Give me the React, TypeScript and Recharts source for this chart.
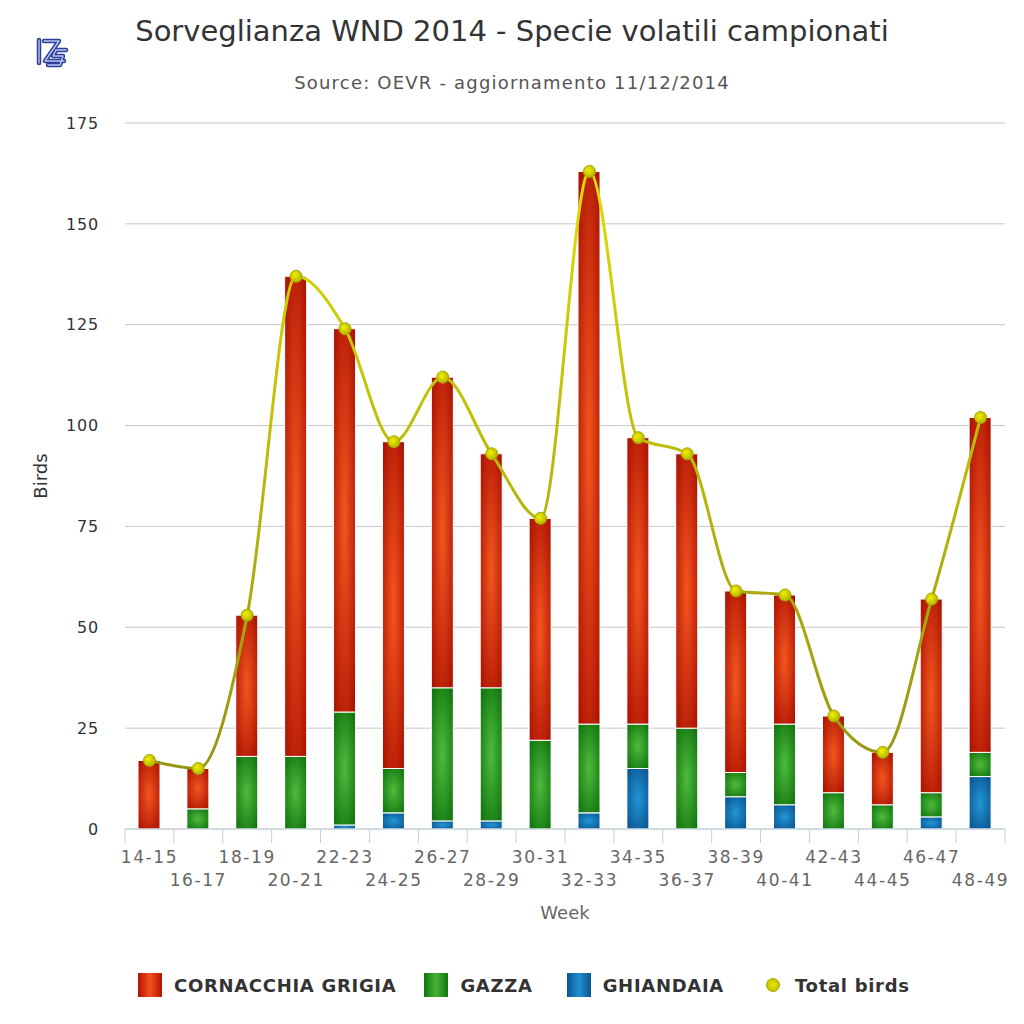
import { Bar, CartesianGrid, ComposedChart, Label, Line, XAxis, YAxis } from "recharts";

const weeks = ["14-15", "16-17", "18-19", "20-21", "22-23", "24-25", "26-27", "28-29", "30-31", "32-33", "34-35", "36-37", "38-39", "40-41", "42-43", "44-45", "46-47", "48-49"];
const cornacchia = [17, 10, 35, 119, 95, 81, 77, 58, 55, 137, 71, 68, 45, 32, 19, 13, 48, 83];
const gazza = [0, 5, 18, 18, 28, 11, 33, 33, 22, 22, 11, 25, 6, 20, 9, 6, 6, 6];
const ghiandaia = [0, 0, 0, 0, 1, 4, 2, 2, 0, 4, 15, 0, 8, 6, 0, 0, 3, 13];
const totals = [17, 15, 53, 137, 124, 96, 112, 93, 77, 163, 97, 93, 59, 58, 28, 19, 57, 102];
const yTicks = [0, 25, 50, 75, 100, 125, 150, 175];

const FONT = "'DejaVu Sans', sans-serif";
const PLOT_W = 880;

const chartData = weeks.map((w, i) => ({
  week: w,
  cornacchia: cornacchia[i],
  gazza: gazza[i],
  ghiandaia: ghiandaia[i],
  total: totals[i],
}));

function WeekTick(props: any) {
  const { x, y, payload, index } = props;
  const half = PLOT_W / weeks.length / 2;
  const last = index === weeks.length - 1;
  return (
    <g>
      <line x1={x - half} x2={x - half} y1={y} y2={y + 14} stroke="#c0d0e0" />
      {last && <line x1={x + half} x2={x + half} y1={y} y2={y + 14} stroke="#c0d0e0" />}
      <text x={x} y={y + (index % 2 === 0 ? 34 : 57)} textAnchor="middle" fill="#666" fontSize={17} letterSpacing={1.6} fontFamily={FONT}>
        {payload.value}
      </text>
    </g>
  );
}

function BirdsLabel(props: any) {
  const { viewBox } = props;
  const cx = viewBox.x + 40;
  const cy = viewBox.y + viewBox.height / 2;
  return (
    <text x={cx} y={cy} transform={`rotate(-90 ${cx} ${cy})`} textAnchor="middle" dominantBaseline="central" fill="#333" fontSize={18} fontFamily={FONT}>
      Birds
    </text>
  );
}

function Logo() {
  return (
    <svg width={36} height={36} viewBox="0 0 36 36" style={{ position: "absolute", left: 34, top: 34 }}>
      <g fill="none" stroke="#2e3f96" strokeWidth={4.5} strokeLinejoin="round" strokeLinecap="round">
        <path d="M5 6 L5 29" />
        <path d="M10 7 L25 7 L11 27 L30 27" />
        <path d="M32 16 L22 16 L19 22 L29 22 L26 31 L14 31" />
      </g>
      <g fill="none" stroke="#b8c4f2" strokeWidth={1.4} strokeLinejoin="round" strokeLinecap="round">
        <path d="M5 6 L5 29" />
        <path d="M10 7 L25 7 L11 27 L30 27" />
        <path d="M32 16 L22 16 L19 22 L29 22 L26 31 L14 31" />
      </g>
    </svg>
  );
}

const legendItems = [
  { name: "CORNACCHIA GRIGIA", grad: "linear-gradient(90deg,#b51200,#f0521e,#b51200)", dot: false, gap: 28 },
  { name: "GAZZA", grad: "linear-gradient(90deg,#0f760f,#47b236,#0f760f)", dot: false, gap: 34 },
  { name: "GHIANDAIA", grad: "linear-gradient(90deg,#0a5690,#1f8fcf,#0a5690)", dot: false, gap: 42 },
  { name: "Total birds", grad: "radial-gradient(circle,#e6e600,#b8b800)", dot: true, gap: 0 },
];

export default function App() {
  return (
    <div style={{ position: "absolute", left: 0, top: 0, width: 1024, height: 1024, background: "#fff", fontFamily: FONT }}>
      <Logo />
      <div style={{ position: "absolute", top: 14, left: 0, width: 1024, textAlign: "center", fontSize: 29, color: "#333" }}>
        Sorveglianza WND 2014 - Specie volatili campionati
      </div>
      <div style={{ position: "absolute", top: 72, left: 0, width: 1024, textAlign: "center", fontSize: 18, letterSpacing: 1.2, color: "#555" }}>
        Source: OEVR - aggiornamento 11/12/2014
      </div>
      <ComposedChart width={1024} height={1024} data={chartData} margin={{ top: 123, right: 19, bottom: 95, left: 0 }}>
        <defs>
          <radialGradient id="gRed" cx="50%" cy="50%" r="70%">
            <stop offset="0%" stopColor="#f4561f" />
            <stop offset="100%" stopColor="#a80e00" />
          </radialGradient>
          <radialGradient id="gGreen" cx="50%" cy="50%" r="70%">
            <stop offset="0%" stopColor="#4fbb3c" />
            <stop offset="100%" stopColor="#0c6f0c" />
          </radialGradient>
          <radialGradient id="gBlue" cx="50%" cy="50%" r="70%">
            <stop offset="0%" stopColor="#2196d6" />
            <stop offset="100%" stopColor="#09508a" />
          </radialGradient>
          <linearGradient id="gLine" x1="0" y1="0" x2="0" y2="1">
            <stop offset="0%" stopColor="#dede00" />
            <stop offset="100%" stopColor="#959512" />
          </linearGradient>
          <radialGradient id="gDot" cx="40%" cy="40%" r="60%">
            <stop offset="0%" stopColor="#f0f000" />
            <stop offset="100%" stopColor="#b5b500" />
          </radialGradient>
        </defs>
        <CartesianGrid vertical={false} stroke="#c8c8c8" />
        <XAxis
          dataKey="week"
          interval={0}
          height={100}
          tickSize={0}
          tickMargin={0}
          tickLine={false}
          axisLine={{ stroke: "#c0d0e0" }}
          tick={<WeekTick />}
        >
          <Label value="Week" position="insideBottom" offset={10} fill="#666" fontSize={18} fontFamily={FONT} />
        </XAxis>
        <YAxis
          width={125}
          domain={[0, 175]}
          ticks={yTicks}
          axisLine={false}
          tickLine={false}
          tickMargin={20}
          tick={{ fill: "#333", fontSize: 16, fontFamily: FONT, letterSpacing: 0.8 }}
        >
          <Label content={<BirdsLabel />} />
        </YAxis>
        <Bar dataKey="ghiandaia" stackId="a" barSize={22} fill="url(#gBlue)" stroke="#fff" strokeWidth={1} isAnimationActive={false} />
        <Bar dataKey="gazza" stackId="a" barSize={22} fill="url(#gGreen)" stroke="#fff" strokeWidth={1} isAnimationActive={false} />
        <Bar dataKey="cornacchia" stackId="a" barSize={22} fill="url(#gRed)" stroke="#fff" strokeWidth={1} isAnimationActive={false} />
        <Line
          dataKey="total"
          type="monotone"
          stroke="url(#gLine)"
          strokeWidth={3}
          dot={{ r: 6, fill: "url(#gDot)", stroke: "#a6a600", strokeWidth: 1 }}
          activeDot={false}
          isAnimationActive={false}
        />
      </ComposedChart>
      <div style={{ position: "absolute", top: 973, left: 138, display: "flex", alignItems: "center" }}>
        {legendItems.map((it) => (
          <div key={it.name} style={{ display: "flex", alignItems: "center", marginRight: it.gap }}>
            {it.dot ? (
              <span style={{ width: 12, height: 12, borderRadius: 7, background: it.grad, border: "1px solid #a6a600", marginRight: 15 }} />
            ) : (
              <span style={{ width: 24, height: 24, background: it.grad, marginRight: 12 }} />
            )}
            <span style={{ fontSize: 18, letterSpacing: 0.7, fontWeight: "bold", color: "#333" }}>{it.name}</span>
          </div>
        ))}
      </div>
    </div>
  );
}
